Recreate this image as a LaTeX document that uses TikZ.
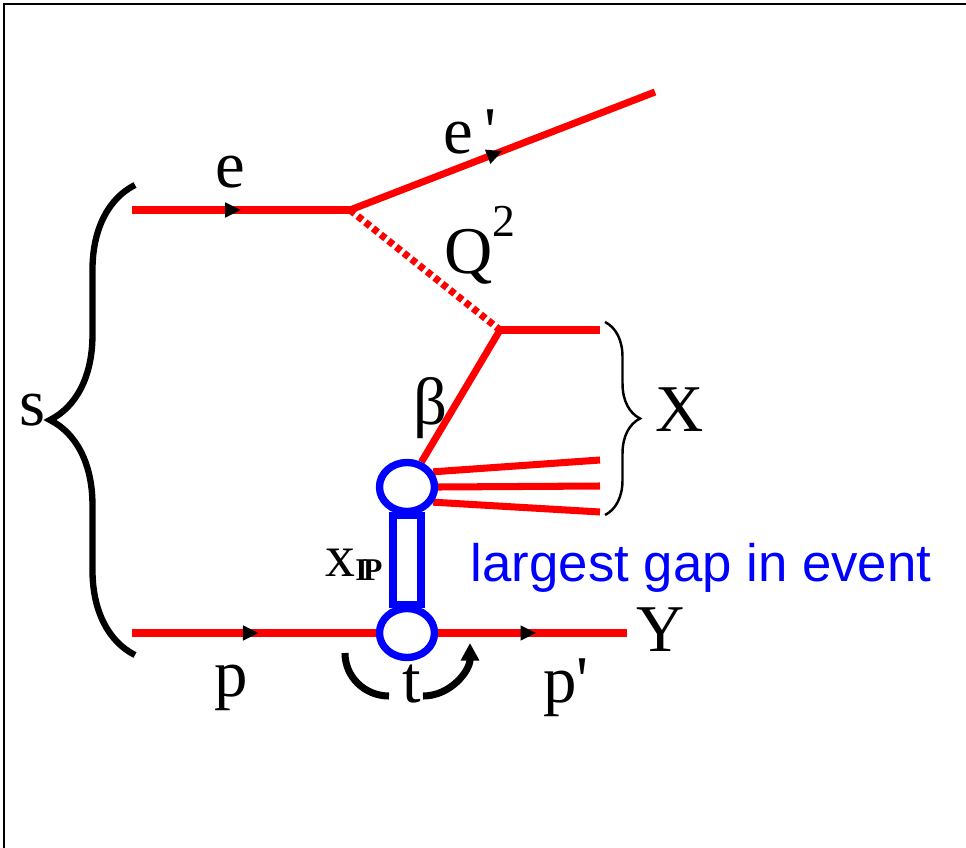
\documentclass[tikz,border=0pt]{standalone}
\usepackage{fontspec}
\setmainfont{Liberation Serif}
\newfontfamily\gapfont{Liberation Sans}
\usetikzlibrary{arrows.meta,positioning,calc,backgrounds,shapes.geometric,decorations.pathreplacing,decorations.markings}
\definecolor{lc}{RGB}{255,0,0}
\definecolor{pc}{RGB}{0,0,255}
\tikzset{lep/.style={draw=lc,line width=2pt},
 fer/.style={lep,postaction={decorate},decoration={markings,mark=at position #1 with {\arrow[black]{Triangle[length=4.5pt,width=4pt]}}}},
 fer/.default=0.5,
 pho/.style={lep,dash pattern=on 1.7pt off 1.1pt},
 blob/.style={ellipse,draw=pc,fill=white,line width=2.1pt,minimum width=5.5mm,minimum height=4.9mm,inner sep=0pt},
 pom/.style={draw=pc,line width=2.1pt},
 brc/.style={decorate,decoration={brace,amplitude=#1}},
 lbl/.style={font=\fontsize{19}{22}\selectfont,inner sep=1pt},
 every node/.style={font=\small}}
\begin{document}
\begin{tikzpicture}[x=0.01cm,y=-0.01cm]
\useasboundingbox (0,0) rectangle (966,848);
\draw[line width=0.6pt] (4,848) -- (4,4) -- (966,4);
% vertices and ends
\coordinate (ein) at (132,210);
\coordinate (v1) at (350,210);
\coordinate (eout) at (655,92);
\coordinate (v2) at (500,330);
\coordinate (x1) at (600,330);
\coordinate (x2) at (600,460);
\coordinate (x3) at (600,486);
\coordinate (x4) at (600,512);
\coordinate (pin) at (132,633);
\coordinate (pout) at (627,633);
\node[blob] (pu) at (407,487) {};
\node[blob] (pl) at (407,633) {};
\begin{scope}[on background layer]
\draw[pom] ([xshift=-1.4mm]pu.south) rectangle ([xshift=1.4mm]pl.north);
\draw[lep] (v2) -- (pu.60);
\draw[lep] (pu.30) -- (x2);
\draw[lep] (pu.east) -- (x3);
\draw[lep] (pu.-30) -- (x4);
\end{scope}
\draw[fer] (ein) -- (v1);
\draw[fer] (v1) -- (eout);
\draw[pho] (v1) -- (v2);
\draw[lep] (v2) -- (x1);
\draw[fer=0.52] (pin) -- (pl.west);
\draw[fer=0.52] (pl.east) -- (pout);
% braces
\draw[brc=0.85cm,line width=1.8pt] (135,655) -- (135,185);
\draw[brc=0.35cm,line width=0.7pt] (605,322) -- (605,515);
% t arcs
\draw[line width=2pt] (345,653) to[out=-90,in=180] (389,696);
\draw[line width=2pt,-{Triangle[length=5pt,width=5pt]}] (423,696) to[out=0,in=-90] (470,643);
% labels
\node[lbl] (le) at (230,172) {e};
\node[lbl] (lepr) at (470,132) {e\,\textquotesingle};
\node[lbl] (lq) at (480,245) {Q\raisebox{0.55em}{\fontsize{13}{13}\selectfont 2}};
\node[lbl] (lb) at (430,408) {β};
\node[lbl] (lx) at (680,410) {X};
\node[lbl] (ly) at (661,630) {Y};
\node[lbl] (ls) at (33,410) {s};
\node[lbl] (lp) at (231,688) {p};
\node[lbl] (lppr) at (566,688) {p\textquotesingle};
\node[lbl] (lt) at (412,684) {t};
\node[lbl,font=\fontsize{17}{20}\selectfont] (lxp) at (354,565) {x{\fontsize{9}{9}\selectfont\bfseries\raisebox{-0.3ex}{I\kern-0.15em P}}};
\node[font=\gapfont\fontsize{15}{17}\selectfont,text=pc] (gap) at (701,568) {largest gap in event};
\end{tikzpicture}
\end{document}
